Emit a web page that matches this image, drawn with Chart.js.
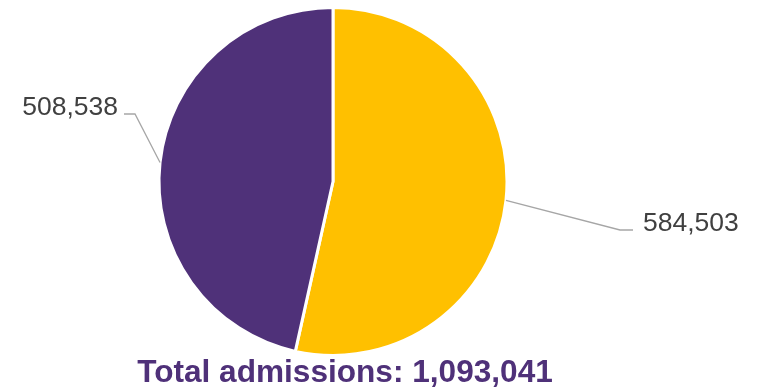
<!DOCTYPE html>
<html>
<head>
<meta charset="utf-8">
<script src="https://cdn.jsdelivr.net/npm/chart.js@4/dist/chart.umd.min.js"></script>
<style>
  html, body { margin: 0; padding: 0; background: #fff; }
  #wrap { width: 761px; height: 387px; }
</style>
</head>
<body>
<div id="wrap"><canvas id="chart"></canvas></div>
<script>
/* chart data */
var categories = ['Yellow', 'Purple'];
var admissions = [584503, 508538];
var sliceColors = ['#FFC000', '#4F3179'];
var titleText = 'Total admissions: 1,093,041';

var purple = '#4F3179';
var labelFont = '26.5px "Liberation Sans", Arial, sans-serif';
var titleFont = 'bold 31.6px "Liberation Sans", Arial, sans-serif';

/* where the leader line bends (offset from the pie centre), its flat run and the gap to the text */
var labelLayout = [
  { dx: 287, dy: 48.5, side: 1, run: 13, gap: 10 },
  { dx: -198, dy: -67.5, side: -1, run: 11, gap: 6 }
];

function fmt(n) {
  return n.toString().replace(/\B(?=(\d{3})+(?!\d))/g, ',');
}

var calloutPlugin = {
  id: 'callouts',
  afterDraw: function(chart) {
    var ctx = chart.ctx;
    var meta = chart.getDatasetMeta(0);
    ctx.save();
    meta.data.forEach(function(arc, i) {
      var mid = (arc.startAngle + arc.endAngle) / 2;
      var ex = arc.x + Math.cos(mid) * arc.outerRadius;
      var ey = arc.y + Math.sin(mid) * arc.outerRadius;
      var lay = labelLayout[i];
      var bx = arc.x + lay.dx;
      var by = arc.y + lay.dy;
      var hx = bx + lay.side * lay.run;

      ctx.strokeStyle = '#A6A6A6';
      ctx.lineWidth = 1.3;
      ctx.beginPath();
      ctx.moveTo(ex, ey);
      ctx.lineTo(bx, by);
      ctx.lineTo(hx, by);
      ctx.stroke();

      ctx.fillStyle = '#404040';
      ctx.font = labelFont;
      ctx.textBaseline = 'alphabetic';
      ctx.textAlign = lay.side > 0 ? 'left' : 'right';
      ctx.fillText(fmt(admissions[i]), hx + lay.side * lay.gap, by + 1);
    });

    /* title under the pie */
    ctx.fillStyle = purple;
    ctx.font = titleFont;
    ctx.textAlign = 'center';
    ctx.textBaseline = 'alphabetic';
    ctx.fillText(titleText, 345, 382);
    ctx.restore();
  }
};

new Chart(document.getElementById('chart'), {
  type: 'pie',
  data: {
    labels: categories,
    datasets: [{
      data: admissions,
      backgroundColor: sliceColors,
      borderColor: '#ffffff',
      borderWidth: 3,
      radius: 174
    }]
  },
  options: {
    responsive: true,
    maintainAspectRatio: false,
    animation: false,
    layout: { padding: { top: 7, bottom: 31, left: 0, right: 95 } },
    plugins: {
      legend: { display: false },
      tooltip: { enabled: false },
      title: { display: false }
    }
  },
  plugins: [calloutPlugin]
});
</script>
</body>
</html>
